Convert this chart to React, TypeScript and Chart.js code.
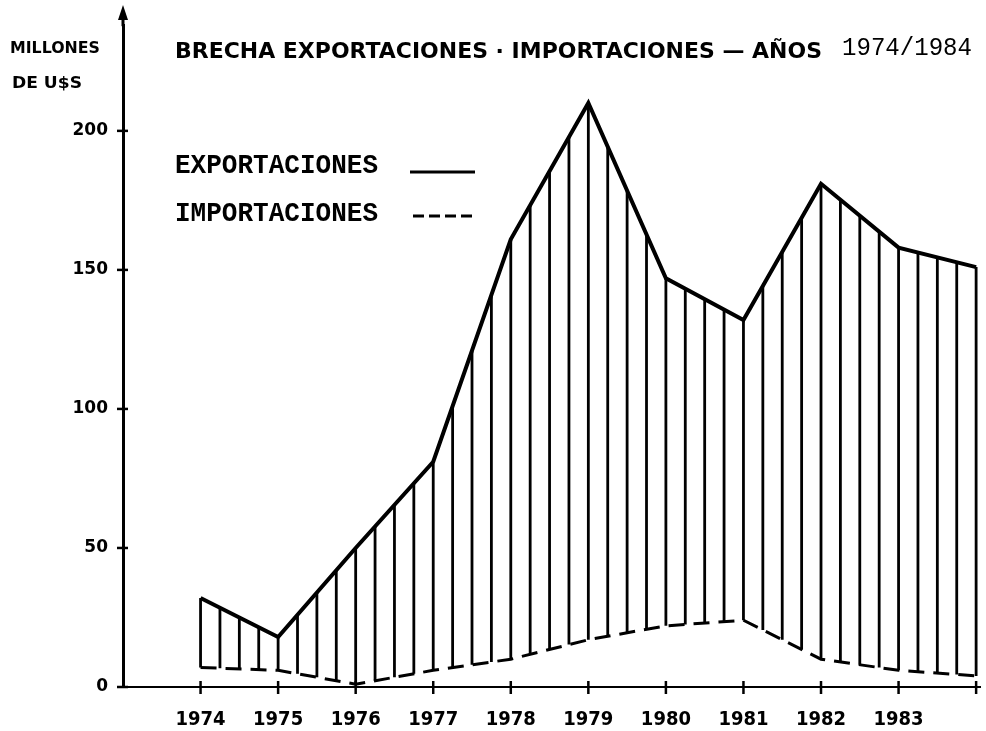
import React, { useEffect, useRef } from 'react';
import { Chart, registerables } from 'chart.js';

Chart.register(...registerables);

const years = [1974, 1975, 1976, 1977, 1978, 1979, 1980, 1981, 1982, 1983, 1984];
const exportaciones = [32, 18, 50, 81, 161, 210, 147, 132, 181, 158, 151];
const importaciones = [7, 6, 1, 6, 10, 17, 22, 24, 10, 6, 4];
const yTicks = [0, 50, 100, 150, 200];
const xTickYears = [1974, 1975, 1976, 1977, 1978, 1979, 1980, 1981, 1982, 1983];
const titleMain = 'BRECHA EXPORTACIONES · IMPORTACIONES — AÑOS';
const titleYears = '1974/1984';
const unitLines = ['MILLONES', 'DE U$S'];
const legendLabels = ['EXPORTACIONES', 'IMPORTACIONES'];

const interp = (arr: number[], t: number) => {
  for (let i = 0; i < years.length - 1; i++) {
    if (t >= years[i] - 1e-9 && t <= years[i + 1] + 1e-9) {
      const f = (t - years[i]) / (years[i + 1] - years[i]);
      return arr[i] + (arr[i + 1] - arr[i]) * f;
    }
  }
  return arr[arr.length - 1];
};

const fitText = (ctx: CanvasRenderingContext2D, text: string, x: number, y: number, w: number, font: string) => {
  ctx.save();
  ctx.font = font;
  ctx.textAlign = 'left';
  ctx.textBaseline = 'alphabetic';
  const m = ctx.measureText(text).width;
  ctx.translate(x, y);
  ctx.scale(w / m, 1);
  ctx.fillStyle = '#000';
  ctx.fillText(text, 0, 0);
  ctx.restore();
};

const hatchPlugin = {
  id: 'hatch',
  beforeDatasetsDraw(chart: any) {
    const { ctx, scales } = chart;
    const xs = scales.x;
    const ys = scales.y;
    ctx.save();
    ctx.strokeStyle = '#000';
    ctx.lineWidth = 2.8;
    for (let t = years[0]; t <= years[years.length - 1] + 1e-9; t += 0.25) {
      const px = xs.getPixelForValue(t);
      ctx.beginPath();
      ctx.moveTo(px, ys.getPixelForValue(interp(importaciones, t)));
      ctx.lineTo(px, ys.getPixelForValue(interp(exportaciones, t)));
      ctx.stroke();
    }
    ctx.restore();
  },
};

const decorPlugin = {
  id: 'decor',
  afterDraw(chart: any) {
    const { ctx, scales, chartArea } = chart;
    const xs = scales.x;
    const ys = scales.y;
    const ax = chartArea.left;
    const ay = chartArea.bottom;
    ctx.save();
    ctx.strokeStyle = '#000';
    ctx.fillStyle = '#000';
    // extend y axis up to the arrow
    ctx.lineWidth = 3;
    ctx.beginPath();
    ctx.moveTo(ax, chartArea.top + 1);
    ctx.lineTo(ax, 14);
    ctx.stroke();
    // arrow on y axis
    ctx.beginPath();
    ctx.moveTo(ax, 5);
    ctx.lineTo(ax - 5, 20);
    ctx.lineTo(ax + 5, 20);
    ctx.closePath();
    ctx.fill();
    // y tick crosses
    ctx.lineWidth = 2.5;
    yTicks.forEach((v) => {
      const py = ys.getPixelForValue(v);
      ctx.beginPath();
      ctx.moveTo(ax - 6, py);
      ctx.lineTo(ax + 5, py);
      ctx.stroke();
    });
    // x tick crosses
    xTickYears.concat([1984]).forEach((v) => {
      const px = xs.getPixelForValue(v);
      ctx.beginPath();
      ctx.moveTo(px, ay - 6);
      ctx.lineTo(px, ay + 7);
      ctx.stroke();
    });
    // unit label
    fitText(ctx, unitLines[0], 10, 53, 90, 'bold 15px "DejaVu Sans"');
    fitText(ctx, unitLines[1], 12, 88, 70, 'bold 15px "DejaVu Sans"');
    // title
    fitText(ctx, titleMain, 175, 58, 647, 'bold 21px "DejaVu Sans"');
    fitText(ctx, titleYears, 842, 55, 130, '25px "Liberation Mono", "DejaVu Sans Mono", monospace');
    // legend
    const lf = 'bold 27px "Liberation Mono", "DejaVu Sans Mono", monospace';
    fitText(ctx, legendLabels[0], 175, 173, 203, lf);
    fitText(ctx, legendLabels[1], 175, 221, 203, lf);
    ctx.lineWidth = 3;
    ctx.beginPath();
    ctx.moveTo(410, 172);
    ctx.lineTo(475, 172);
    ctx.stroke();
    ctx.setLineDash([11, 5]);
    ctx.beginPath();
    ctx.moveTo(413, 216);
    ctx.lineTo(472, 216);
    ctx.stroke();
    ctx.restore();
  },
};

export default function App() {
  const ref = useRef<HTMLCanvasElement | null>(null);
  useEffect(() => {
    if (!ref.current) return;
    const chart = new Chart(ref.current, {
      type: 'line',
      data: {
        datasets: [
          {
            label: legendLabels[0],
            data: years.map((y, i) => ({ x: y, y: exportaciones[i] })),
            borderColor: '#000',
            borderWidth: 4,
            pointRadius: 0,
            tension: 0,
            fill: false,
          },
          {
            label: legendLabels[1],
            data: years.map((y, i) => ({ x: y, y: importaciones[i] })),
            borderColor: '#000',
            borderWidth: 3,
            borderDash: [16, 9],
            pointRadius: 0,
            tension: 0,
            fill: false,
          },
        ],
      },
      options: {
        responsive: false,
        animation: false,
        layout: { padding: { top: 12, right: 6, left: 0, bottom: 0 } },
        plugins: {
          legend: { display: false },
          tooltip: { enabled: false },
          title: { display: false },
        },
        scales: {
          x: {
            type: 'linear',
            min: 1973,
            max: 1984.05,
            afterBuildTicks: (s: any) => {
              s.ticks = xTickYears.map((v) => ({ value: v }));
            },
            afterFit: (s: any) => {
              s.height = 44;
            },
            ticks: {
              autoSkip: false,
              maxRotation: 0,
              padding: 21,
              color: '#000',
              font: { family: '"Liberation Sans Narrow", "DejaVu Sans Condensed", "DejaVu Sans"', size: 20, weight: 'bold' },
              callback: (v: any) => String(v),
            },
            grid: { display: false, drawTicks: false },
            border: { display: true, color: '#000', width: 2 },
          },
          y: {
            type: 'linear',
            min: 0,
            max: 238,
            afterBuildTicks: (s: any) => {
              s.ticks = yTicks.map((v) => ({ value: v }));
            },
            afterFit: (s: any) => {
              s.width = 123;
            },
            ticks: {
              padding: 15,
              color: '#000',
              font: { family: '"DejaVu Sans"', size: 17, weight: 'bold' },
              callback: (v: any) => String(v),
            },
            grid: { display: false, drawTicks: false },
            border: { display: true, color: '#000', width: 3 },
          },
        },
      },
      plugins: [hatchPlugin, decorPlugin],
    } as any);
    return () => chart.destroy();
  }, []);
  return (
    <div style={{ position: 'fixed', left: 0, top: 0, width: 986, height: 731, background: '#fff' }}>
      <canvas ref={ref} width={986} height={731} style={{ display: 'block', width: 986, height: 731 }} />
    </div>
  );
}
